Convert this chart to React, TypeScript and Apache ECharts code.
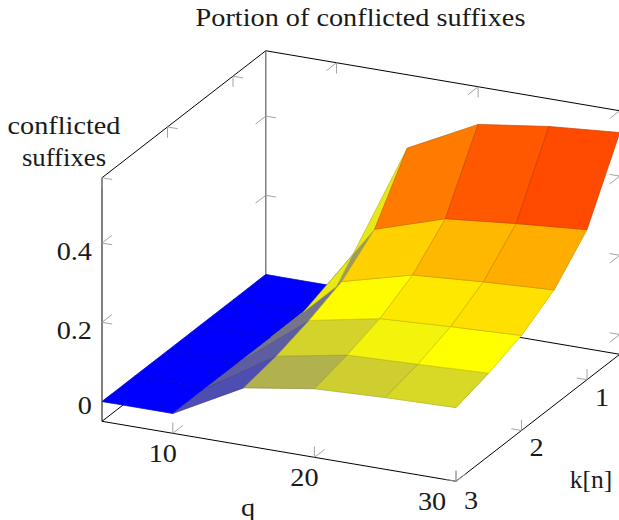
import React, { useEffect, useRef } from "react";
import * as echarts from "echarts";

const qValues = [5, 10, 15, 20, 25, 30];
const kValues = [0.5, 1, 1.5, 2, 2.5, 3];
// rows follow kValues (back to front), columns follow qValues
const zRows = [
  [0, 0, 0.38, 0.47, 0.495, 0.51],
  [0, 0, 0.239, 0.296, 0.314, 0.329],
  [0, 0, 0.171, 0.218, 0.231, 0.241],
  [0, 0, 0.137, 0.172, 0.182, 0.19],
  [0, 0, 0.111, 0.144, 0.151, 0.159],
  [0, 0, 0.095, 0.123, 0.131, 0.136],
];
const qTicks = [10, 20, 30];
const kTicks = [1, 2, 3];
const zTicks = [0, 0.2, 0.4];
const zTickLabels = ["0", "0.2", "0.4"];
const hotStops = [
  [0, 0, 255],
  [255, 255, 0],
  [255, 128, 0],
  [255, 0, 0],
];
const qMin = 5, qMax = 30, kMin = 0.5, kMax = 3, zMin = -0.05, zMax = 0.565, zCap = 0.51;
const FONT = "'Liberation Serif'";
const TEXT = "#1a1a1a";
const FS = 26, SX = 1.087;

function project(q: number, k: number, z: number): [number, number] {
  return [
    102 + 14.16 * (q - 5) + 65.5 * (3 - k),
    401.5 + 2.4 * (q - 5) - 50.8 * (3 - k) - 396 * z,
  ];
}

function hot(t: number) {
  const s = Math.max(0, Math.min(0.9999, t)) * (hotStops.length - 1);
  const i = Math.floor(s), f = s - i;
  return hotStops[i].map((c, j) => c + (hotStops[i + 1][j] - c) * f);
}
const css = (c: number[]) => `rgb(${c.map((v) => Math.round(v)).join(",")})`;

// painted column by column, and from the front row to the back row in each column
const cells: number[][] = [];
for (let c = 0; c < qValues.length - 1; c++)
  for (let r = kValues.length - 2; r >= 0; r--) cells.push([r, c]);

type Seg = [number, number, number, number, number, number, string, number];
const segs: Seg[] = [];
const add = (a: number[], b: number[], col: string, w: number) =>
  segs.push([a[0], a[1], a[2], b[0], b[1], b[2], col, w] as Seg);
const TICK = "#999999", TW = 0.9, TQ = 0.72, TK = 0.155, TZ = 0.027;

// box
add([qMin, kMax, zMin], [qMax, kMax, zMin], "#000", 1);
add([qMax, kMax, zMin], [qMax, kMin, zMin], "#000", 1);
add([qMin, kMax, zMin], [qMin, kMin, zMin], "#000", 1);
add([qMin, kMin, zMin], [qMax, kMin, zMin], "#000", 1);
add([qMin, kMax, zMin], [qMin, kMax, zMax], "#000", 1);
add([qMin, kMax, zMax], [qMin, kMin, zMax], "#000", 1);
add([qMin, kMin, zMax], [qMax, kMin, zMax], "#000", 1);
add([qMin, kMin, zMin], [qMin, kMin, zMax], "#7f7f7f", 1.5);
// ticks
for (const q of qTicks) {
  add([q, kMax, zMin], [q, kMax, zMin + TZ], TICK, TW);
  add([q, kMax, zMin], [q, kMax - TK, zMin], TICK, TW);
  add([q, kMin, zMax], [q, kMin, zMax - TZ], TICK, TW);
  add([q, kMin, zMax], [q, kMin + TK, zMax], TICK, TW);
}
for (const k of kTicks) {
  add([qMax, k, zMin], [qMax, k, zMin + TZ], TICK, TW);
  add([qMax, k, zMin], [qMax - TQ, k, zMin], TICK, TW);
  add([qMin, k, zMax], [qMin, k, zMax - TZ], TICK, TW);
  add([qMin, k, zMax], [qMin + TQ, k, zMax], TICK, TW);
}
for (const z of zTicks) {
  add([qMin, kMax, z], [qMin + TQ, kMax, z], TICK, TW);
  add([qMin, kMax, z], [qMin, kMax - TK, z], TICK, TW);
  add([qMin, kMin, z], [qMin + TQ, kMin, z], TICK, TW);
  add([qMin, kMin, z], [qMin, kMin + TK, z], TICK, TW);
  add([qMax, kMin, z], [qMax - TQ, kMin, z], TICK, TW);
  add([qMax, kMin, z], [qMax, kMin + TK, z], TICK, TW);
}

type Lab = [string, number, number, number, number, number, string];
const labels: Lab[] = [];
zTicks.forEach((z, i) => labels.push([zTickLabels[i], qMin, kMax, z, -10, [4, 8, 8][i], "right"]));
qTicks.forEach((q, i) => labels.push([String(q), q, kMax, zMin, [-10, -10, -24][i], 20, "center"]));
kTicks.forEach((k, i) => labels.push([String(k), qMax, k, zMin, 15, [18, 17, 19][i], "center"]));

const textEl = (text: string, x: number, y: number, scaleX = SX) => ({
  type: "text",
  x,
  y,
  scaleX,
  style: { text, font: `${FS}px ${FONT}`, fill: TEXT, textAlign: "center" },
});

export default function App() {
  const ref = useRef<HTMLDivElement>(null);
  useEffect(() => {
    document.body.style.margin = "0";
    const chart = echarts.init(ref.current!, undefined, { renderer: "svg" });
    chart.setOption({
      animation: false,
      backgroundColor: "#fff",
      grid: { left: 0, right: 0, top: 0, bottom: 0 },
      xAxis: { type: "value", min: 0, max: 619, show: false },
      yAxis: { type: "value", min: 0, max: 520, inverse: true, show: false },
      graphic: [
        textEl("Portion of conflicted suffixes", 360.5, 4),
        textEl("conflicted", 64, 112),
        textEl("suffixes", 64, 144, 1.03),
        textEl("q", 248, 494),
        textEl("k[n]", 591, 466, 0.98),
      ],
      series: [
        {
          type: "custom",
          coordinateSystem: "cartesian2d",
          clip: false,
          silent: true,
          z: 1,
          data: segs.map((_, i) => [i]),
          renderItem: (_p: any, api: any) => {
            const s = segs[api.value(0)];
            const a = api.coord(project(s[0], s[1], s[2]));
            const b = api.coord(project(s[3], s[4], s[5]));
            return {
              type: "line",
              shape: { x1: a[0], y1: a[1], x2: b[0], y2: b[1] },
              style: { stroke: s[6], lineWidth: s[7], fill: "none" },
            };
          },
        },
        {
          type: "custom",
          coordinateSystem: "cartesian2d",
          clip: false,
          silent: true,
          z: 2,
          data: cells,
          renderItem: (_p: any, api: any) => {
            const r = api.value(0), c = api.value(1);
            const corners: [number, number][] = [[r, c], [r, c + 1], [r + 1, c + 1], [r + 1, c]];
            const pts = corners.map(([a, b]) => api.coord(project(qValues[b], kValues[a], zRows[a][b])));
            const mean = corners.reduce((sum, [a, b]) => sum + zRows[a][b], 0) / 4;
            const col = hot(mean / zCap);
            return {
              type: "polygon",
              shape: { points: pts },
              style: { fill: css(col), stroke: css(col.map((v) => v * 0.8)), lineWidth: 0.7 },
            };
          },
        },
        {
          type: "custom",
          coordinateSystem: "cartesian2d",
          clip: false,
          silent: true,
          z: 3,
          data: labels.map((_, i) => [i]),
          renderItem: (_p: any, api: any) => {
            const l = labels[api.value(0)];
            const p = api.coord(project(l[1], l[2], l[3]));
            return {
              type: "text",
              x: p[0] + l[4],
              y: p[1] + l[5],
              scaleX: SX,
              style: {
                text: l[0],
                font: `${FS}px ${FONT}`,
                fill: TEXT,
                textAlign: l[6],
                textVerticalAlign: "middle",
              },
            };
          },
        },
      ],
    });
    return () => chart.dispose();
  }, []);
  return <div ref={ref} style={{ width: 619, height: 520 }} />;
}
